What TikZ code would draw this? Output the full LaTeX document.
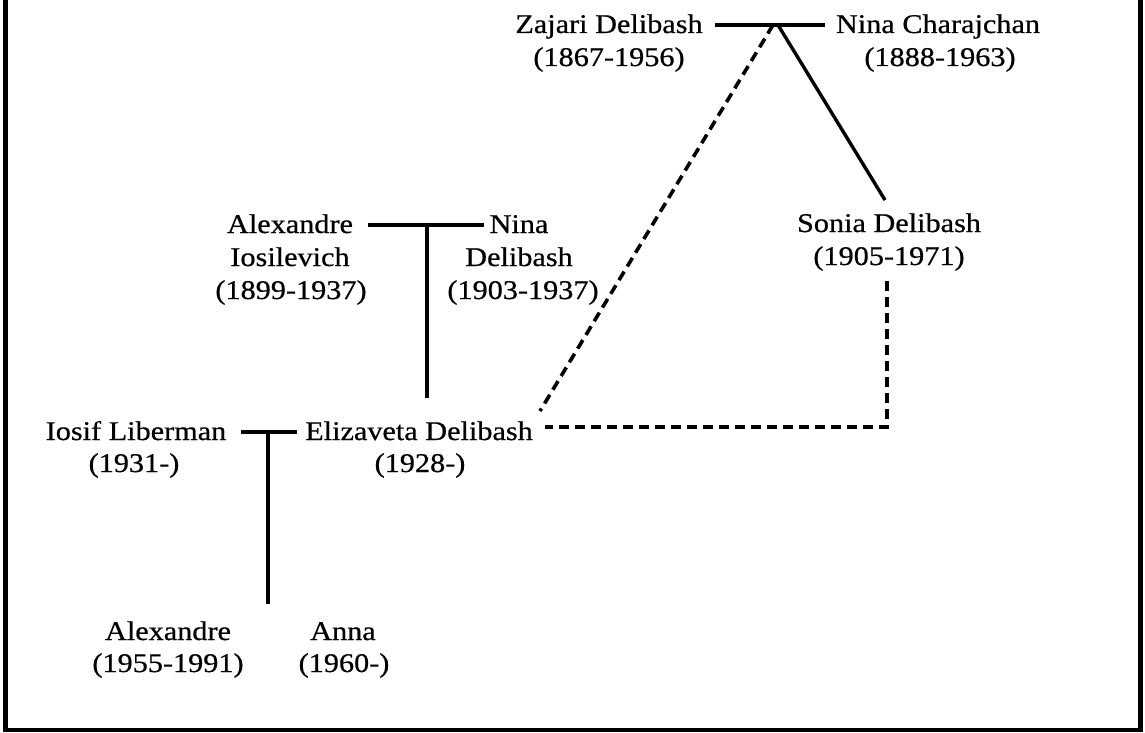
\documentclass[tikz,border=0pt]{standalone}
\usepackage{fontspec}
\setmainfont{Liberation Serif}[FakeStretch=1.12,FakeBold=0.6]
\begin{document}
\begin{tikzpicture}[x=1pt,y=-1pt,
  person/.style={anchor=base, inner sep=0pt, font=\fontsize{27}{33}\selectfont},
  tie/.style={line width=3.4pt},
  kin/.style={line width=3.6pt, dash pattern=on 10pt off 6pt},
  frame/.style={line width=4.2pt}]
\useasboundingbox (0,0) rectangle (1145,733);

% open frame: left, bottom and right sides
\draw[frame] (5.5,0) -- (5.5,730) -- (1140.5,730) -- (1140.5,0);

% first generation
\node[person] (zajari)  at (609,33) {Zajari Delibash};
\node[person] (zajariD) at (609,66) {(1867-1956)};
\node[person] (ninaC)   at (938,33) {Nina Charajchan};
\node[person] (ninaCD)  at (940,66) {(1888-1963)};

% second generation
\node[person] (sonia)   at (889,232) {Sonia Delibash};
\node[person] (soniaD)  at (889,265) {(1905-1971)};
\node[person] (alexI)   at (290,233) {Alexandre};
\node[person] (alexI2)  at (290,266) {Iosilevich};
\node[person] (alexID)  at (291,299) {(1899-1937)};
\node[person] (ninaD)   at (519,233) {Nina};
\node[person] (ninaD2)  at (519,266) {Delibash};
\node[person] (ninaDD)  at (523,299) {(1903-1937)};

% third generation
\node[person] (iosif)   at (136,440) {Iosif Liberman};
\node[person] (iosifD)  at (134,472) {(1931-)};
\node[person] (eliz)    at (419,440) {Elizaveta Delibash};
\node[person] (elizD)   at (420,472) {(1928-)};

% fourth generation
\node[person] (alexL)   at (168,640) {Alexandre};
\node[person] (alexLD)  at (168,672) {(1955-1991)};
\node[person] (anna)    at (343,640) {Anna};
\node[person] (annaD)   at (344,672) {(1960-)};

% marriage points
\coordinate (u1) at (775,25);
\coordinate (u2) at (427,225);
\coordinate (u3) at (268,432);

% Zajari + Nina Charajchan
\draw[tie] ([xshift=12pt]zajari.east |- u1) -- ([xshift=-11pt]ninaC.west |- u1);
\draw[tie] ([xshift=3pt]u1) -- ([shift={(-4pt,13pt)}]sonia.north);
\draw[kin] ([xshift=-2pt]u1) -- ([shift={(7pt,10pt)}]eliz.north east);

% Sonia as foster parent of Elizaveta
\draw[kin] ([shift={(-2pt,-10pt)}]soniaD.south) |- ([shift={(12pt,4pt)}]eliz.east);

% Alexandre Iosilevich + Nina Delibash
\draw[tie] ([xshift=15pt]alexI.east |- u2) -- ([xshift=-5pt]ninaD.west |- u2);
\draw[tie] (u2) -- ([yshift=23pt]u2 |- eliz.north);

% Iosif Liberman + Elizaveta Delibash
\draw[tie] ([xshift=15pt]iosif.east |- u3) -- ([xshift=-8pt]eliz.west |- u3);
\draw[tie] (u3) -- ([yshift=17pt]u3 |- alexL.north);
\end{tikzpicture}
\end{document}
